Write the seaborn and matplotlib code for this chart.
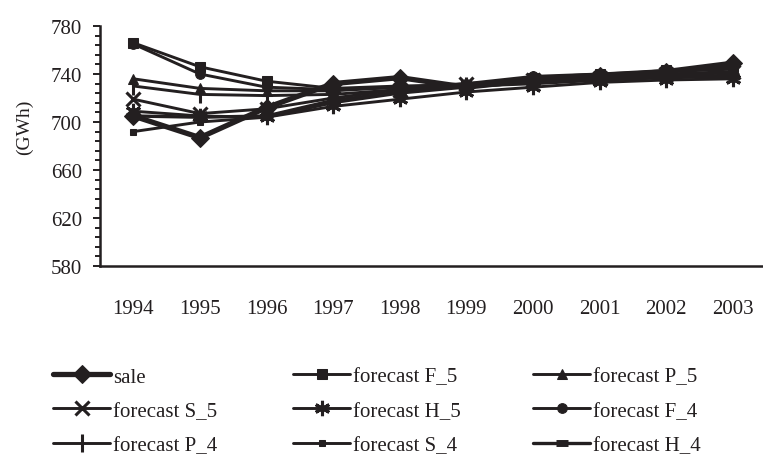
import matplotlib
matplotlib.use("Agg")
import matplotlib.pyplot as plt
from matplotlib.ticker import FixedLocator
import seaborn as sns

years = [1994, 1995, 1996, 1997, 1998, 1999, 2000, 2001, 2002, 2003]
sale = [705, 687, 712, 732, 737, 729, 735, 738, 742, 749]
forecast_F5 = [766, 746, 734, 728, 730, 731, 737, 740, 743, 746]
forecast_P5 = [736, 728, 726, 726, 729, 731, 736, 739, 742, 745]
forecast_S5 = [719, 707, 711, 720, 727, 732, 735, 737, 740, 742]
forecast_H5 = [709, 705, 704, 713, 719, 725, 729, 733, 735, 736]
forecast_F4 = [765, 740, 729, 727, 729, 732, 738, 740, 742, 744]
forecast_P4 = [730, 723, 722, 723, 727, 730, 734, 737, 739, 741]
forecast_S4 = [692, 700, 704, 716, 724, 729, 733, 736, 738, 739]
forecast_H4 = [705, 704, 705, 718, 725, 730, 732, 735, 737, 738]
y_ticks = [580, 620, 660, 700, 740, 780]

sns.set_style("ticks")
plt.rcParams["font.family"] = ["Liberation Serif", "DejaVu Serif"]

C = "#231f20"
fig = plt.figure(figsize=(7.63, 4.56), dpi=100)
ax = fig.add_axes([100 / 763, (456 - 267) / 456, 666 / 763, 240 / 456])

series = [
    ("sale", sale, dict(marker="D", markersize=9, linewidth=3.8)),
    ("forecast F_5", forecast_F5, dict(marker="s", markersize=7.5, linewidth=2.1)),
    ("forecast P_5", forecast_P5, dict(marker="^", markersize=7, linewidth=2.1)),
    ("forecast S_5", forecast_S5, dict(marker="x", markersize=10, markeredgewidth=2.2, linewidth=2.1)),
    ("forecast H_5", forecast_H5, dict(marker=(6, 2, 0), markersize=11, markeredgewidth=2.2, linewidth=2.1)),
    ("forecast F_4", forecast_F4, dict(marker="o", markersize=7, linewidth=2.1)),
    ("forecast P_4", forecast_P4, dict(marker="|", markersize=13, markeredgewidth=2.2, linewidth=2.1)),
    ("forecast S_4", forecast_S4, dict(marker="s", markersize=4, linewidth=2.1)),
    ("forecast H_4", forecast_H4, dict(marker="_", markersize=9, markeredgewidth=5, linewidth=2.4)),
]

handles = {}
for name, vals, kw in series:
    sns.lineplot(x=years, y=vals, ax=ax, color=C, markeredgecolor=C,
                 markerfacecolor=C, label=name, legend=False, **kw)
    handles[name] = ax.get_lines()[-1]

ax.set_xlim(1993.5, 2003.5)
ax.set_ylim(580, 780)
ax.set_xticks(years)
ax.set_xticklabels([str(y) for y in years])
ax.set_yticks(y_ticks)
ax.yaxis.set_minor_locator(FixedLocator(list(range(580, 781, 8))))
ax.tick_params(axis="x", length=0, pad=24, labelsize=15, colors=C)
ax.tick_params(axis="y", which="major", length=5, width=1.4, pad=8, labelsize=15, colors=C)
ax.tick_params(axis="y", which="minor", length=3.5, width=1.4, colors=C)
sns.despine(ax=ax)
for s in ["left", "bottom"]:
    ax.spines[s].set_linewidth(1.8)
    ax.spines[s].set_color(C)

ax.set_ylabel("(GWh)", fontsize=14, color=C)
ax.yaxis.set_label_coords(-0.113, 0.583)
ax.yaxis.label.set_verticalalignment("center")

cols = [
    (["sale", "forecast S_5", "forecast P_4"], 53 / 763),
    (["forecast F_5", "forecast H_5", "forecast S_4"], 293 / 763),
    (["forecast P_5", "forecast F_4", "forecast H_4"], 533 / 763),
]
for names, x0 in cols:
    leg = fig.legend([handles[n] for n in names], names, loc="upper left",
                     bbox_to_anchor=(x0, 1 - 368 / 456), bbox_transform=fig.transFigure,
                     frameon=False, borderpad=0, borderaxespad=0, fontsize=15,
                     handlelength=2.75, handletextpad=0.15, labelspacing=0.7)
    for t in leg.get_texts():
        t.set_color(C)

fig.savefig("out.png", dpi=100)
